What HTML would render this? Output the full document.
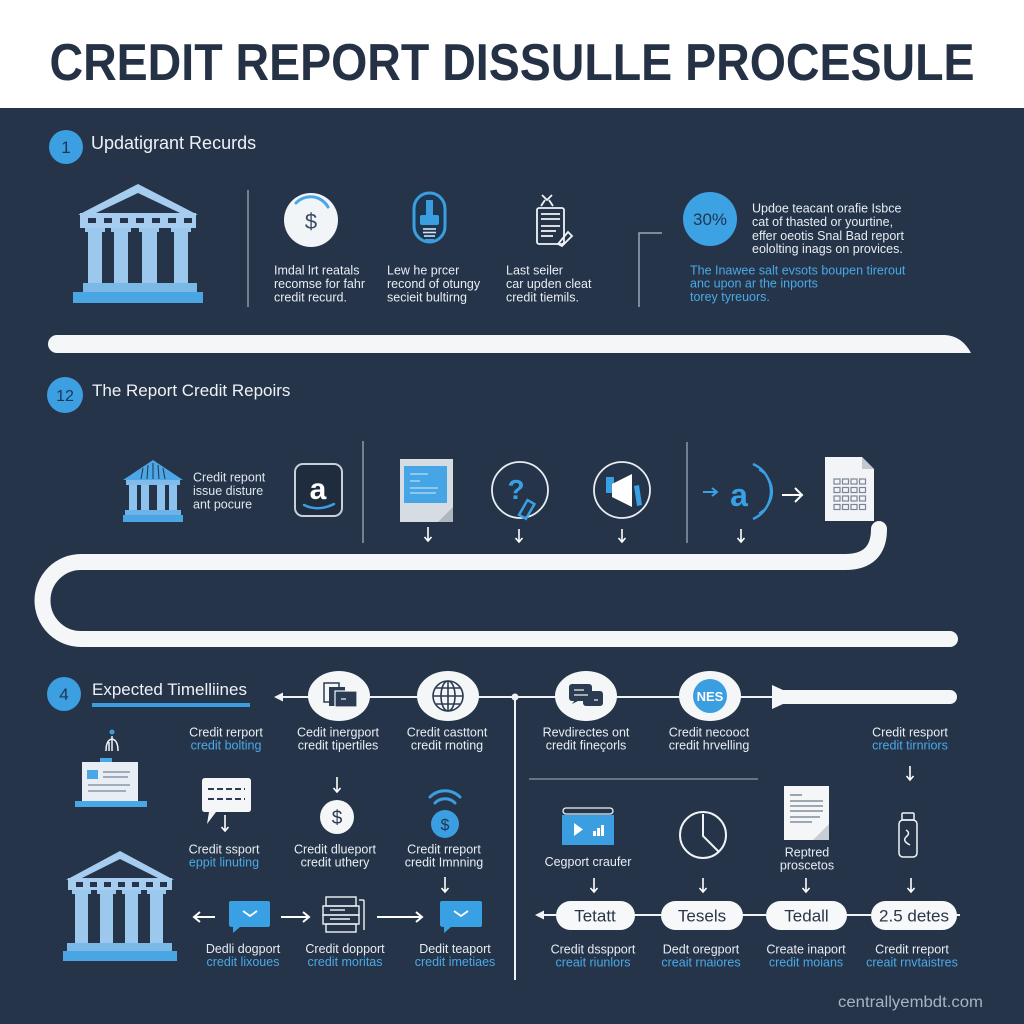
<!DOCTYPE html>
<html><head><meta charset="utf-8"><style>
html,body{margin:0;padding:0;background:#253448;}
svg{display:block;}
text{font-family:"Liberation Sans",Arial,sans-serif;}
</style></head><body>
<svg width="1024" height="1024" viewBox="0 0 1024 1024" xmlns="http://www.w3.org/2000/svg">
<rect x="0" y="0" width="1024" height="1024" fill="#253448"/>
<rect x="0" y="0" width="1024" height="108" fill="#ffffff"/>
<text x="512" y="80" text-anchor="middle" font-size="52" font-weight="bold" fill="#253246" textLength="925" lengthAdjust="spacingAndGlyphs">CREDIT REPORT DISSULLE PROCESULE</text>

<!-- ===== Section 1 ===== -->
<circle cx="66" cy="147" r="17" fill="#3b9fe1"/>
<text x="66" y="153" text-anchor="middle" font-size="17" fill="#1d3550">1</text>
<text x="91" y="149" font-size="18" fill="#eef2f6">Updatigrant Recurds</text>

<!-- big bank -->
<g>
<polygon points="138,184 198,215 78,215" fill="#a6cdf0"/>
<polygon points="138,193 180,213 96,213" fill="#253448"/>
<rect x="80" y="213" width="116" height="15" fill="#a6cdf0"/>
<g fill="#253448"><rect x="88" y="218" width="8" height="5"/><rect x="104" y="218" width="8" height="5"/><rect x="120" y="218" width="8" height="5"/><rect x="136" y="218" width="8" height="5"/><rect x="152" y="218" width="8" height="5"/><rect x="168" y="218" width="8" height="5"/><rect x="184" y="218" width="8" height="5"/></g>
<g fill="#9cc8ee">
<rect x="85" y="228" width="20" height="4"/><rect x="88" y="231" width="14" height="52"/>
<rect x="111" y="228" width="20" height="4"/><rect x="114" y="231" width="14" height="52"/>
<rect x="139" y="228" width="20" height="4"/><rect x="142" y="231" width="15" height="52"/>
<rect x="171" y="228" width="20" height="4"/><rect x="174" y="231" width="14" height="52"/>
</g>
<rect x="83" y="283" width="114" height="9" fill="#7ab8e8"/>
<rect x="73" y="292" width="130" height="11" fill="#4aa6e2"/>
</g>
<line x1="248" y1="190" x2="248" y2="307" stroke="#8e9aab" stroke-width="1.5"/>

<!-- dollar circle -->
<circle cx="311" cy="220" r="27" fill="#f2f5f8"/>
<path d="M296 203 A20 20 0 0 1 328 207" stroke="#4aa6e6" stroke-width="3" fill="none" stroke-linecap="round"/>
<text x="311" y="229" text-anchor="middle" font-size="22" fill="#3a4a60">$</text>

<!-- bulb -->
<rect x="414" y="193" width="31" height="49" rx="15.5" fill="#1f3650" stroke="#3a9ee0" stroke-width="3"/>
<rect x="426" y="200" width="7" height="17" fill="#3a9ee0"/>
<rect x="420" y="215" width="19" height="10" rx="2" fill="#3a9ee0"/>
<g stroke="#cfe3f5" stroke-width="1.6"><line x1="423" y1="229" x2="436" y2="229"/><line x1="423" y1="232.5" x2="436" y2="232.5"/><line x1="424" y1="236" x2="435" y2="236"/></g>
<rect x="425" y="239" width="9" height="4" fill="#3a9ee0"/>

<!-- doc icon -->
<g stroke="#f0f4f8" stroke-width="1.8" fill="none">
<path d="M542 195 l5 5 l5 -5 M545 200 l-4 6 M549 200 l4 6"/>
<rect x="537" y="208" width="27" height="36" rx="2"/>
<line x1="541" y1="214" x2="560" y2="214"/>
<line x1="541" y1="219" x2="560" y2="219"/>
<line x1="541" y1="226" x2="560" y2="226"/>
<line x1="541" y1="231" x2="556" y2="231"/>
<line x1="541" y1="236" x2="553" y2="236"/>
<path d="M558 244 L568 232 L572 236 L562 246 Z"/>
</g>

<g font-size="12.5" fill="#e8edf3">
<text x="274" y="274.5">Imdal lrt reatals</text>
<text x="274" y="288">recomse for fahr</text>
<text x="274" y="301.5">credit recurd.</text>
<text x="387" y="274.5">Lew he prcer</text>
<text x="387" y="288">recond of otungy</text>
<text x="387" y="301.5">secieit bultirng</text>
<text x="506" y="274.5">Last seiler</text>
<text x="506" y="288">car upden cleat</text>
<text x="506" y="301.5">credit tiemils.</text>
</g>

<polyline points="662,233 639,233 639,307" stroke="#9aa6b6" stroke-width="1.5" fill="none"/>
<circle cx="710" cy="219" r="27" fill="#3da2e3"/>
<text x="710" y="225" text-anchor="middle" font-size="17" fill="#1d3550">30%</text>
<g font-size="12.5" fill="#e8edf3">
<text x="752" y="212.5">Updoe teacant orafie Isbce</text>
<text x="752" y="226">cat of thasted or yourtine,</text>
<text x="752" y="240">effer oeotis Snal Bad report</text>
<text x="752" y="253">eololting inags on provices.</text>
</g>
<g font-size="12.5" fill="#4aa9e9">
<text x="690" y="274.5">The Inawee salt evsots boupen tirerout</text>
<text x="690" y="287.5">anc upon ar the inports</text>
<text x="690" y="301">torey tyreuors.</text>
</g>

<path d="M57 335 H945 Q962 336 971 353 H57 A9 9 0 0 1 57 335 Z" fill="#f4f6f8"/>

<!-- ===== Section 2 ===== -->
<circle cx="65" cy="395" r="18" fill="#3b9fe1"/>
<text x="65" y="401" text-anchor="middle" font-size="16" fill="#1d3550">12</text>
<text x="92" y="396" font-size="17" fill="#eef2f6">The Report Credit Repoirs</text>

<!-- small bank -->
<g>
<polygon points="153,460 183,480 123,480" fill="#4da6e6"/>
<g stroke="#253448" stroke-width="1"><line x1="143" y1="468" x2="141" y2="479"/><line x1="148" y1="465" x2="147" y2="479"/><line x1="153" y1="463" x2="153" y2="479"/><line x1="158" y1="465" x2="159" y2="479"/><line x1="163" y1="468" x2="165" y2="479"/></g>
<rect x="126" y="480" width="54" height="5" fill="#7fbbeb"/>
<g fill="#8dc2ee"><rect x="129" y="485" width="8" height="25"/><rect x="141" y="485" width="8" height="25"/><rect x="157" y="485" width="8" height="25"/><rect x="169" y="485" width="8" height="25"/></g>
<rect x="125" y="510" width="56" height="5" fill="#6fb2e8"/>
<rect x="123" y="515" width="60" height="7" fill="#4aa6e2"/>
</g>
<g font-size="12.5" fill="#dfe6ee">
<text x="193" y="481.5">Credit repont</text>
<text x="193" y="495">issue disture</text>
<text x="193" y="508.5">ant pocure</text>
</g>
<rect x="295" y="464" width="47" height="52" rx="8" fill="#1e2c3e" stroke="#c8d0da" stroke-width="2"/>
<text x="318" y="499" text-anchor="middle" font-size="30" font-weight="bold" fill="#ffffff">a</text>
<path d="M304 505 Q318 512 334 504" stroke="#3a9ee0" stroke-width="2.5" fill="none" stroke-linecap="round"/>
<line x1="363" y1="441" x2="363" y2="543" stroke="#8e9aab" stroke-width="1.5"/>

<rect x="400" y="459" width="53" height="63" fill="#d5dce4"/>
<rect x="404" y="466" width="43" height="37" fill="#45a5e5"/>
<g stroke="#d8ecfa" stroke-width="1"><line x1="410" y1="474" x2="428" y2="474"/><line x1="410" y1="481" x2="420" y2="481"/><line x1="410" y1="488" x2="438" y2="488"/><line x1="410" y1="493" x2="436" y2="493"/></g>
<polygon points="453,507 453,522 438,522" fill="#aeb6c0"/>

<circle cx="520" cy="490" r="28" fill="none" stroke="#e8edf3" stroke-width="1.8"/>
<text x="516" y="499" text-anchor="middle" font-size="28" font-weight="bold" fill="#3aa0e4">?</text>
<rect x="523" y="501" width="8" height="17" fill="none" stroke="#3aa0e4" stroke-width="2.5" transform="rotate(30 527 509)"/>

<circle cx="622" cy="490" r="28" fill="none" stroke="#e8edf3" stroke-width="1.8"/>
<rect x="606" y="477" width="8" height="16" fill="#3aa0e4"/>
<polygon points="612,484 632,474 632,507 612,497" fill="#ffffff"/>
<polygon points="634,486 639,485 642,505 637,506" fill="#3aa0e4"/>

<line x1="687" y1="442" x2="687" y2="543" stroke="#8e9aab" stroke-width="1.5"/>
<path d="M703 492 H716 M712 488 L717 492 L712 496" stroke="#3aa0e4" stroke-width="2" fill="none"/>
<text x="739" y="506" text-anchor="middle" font-size="32" font-weight="bold" fill="#3aa0e4">a</text>
<path d="M753 464 A30 30 0 0 1 753 519" stroke="#3aa0e4" stroke-width="2.5" fill="none"/>
<path d="M759 470 A24 24 0 0 1 759 513" stroke="#3aa0e4" stroke-width="1.5" fill="none"/>
<path d="M782 495 H802 M795 488 L802 495 L795 502" stroke="#ffffff" stroke-width="2" fill="none"/>

<path d="M825 457 H862 L874 469 V521 H825 Z" fill="#f2f4f7"/>
<polygon points="862,457 874,469 862,469" fill="#c2c8d0"/>
<g fill="none" stroke="#7b8594" stroke-width="1.2">
<rect x="834" y="479" width="6" height="5"/><rect x="842.5" y="479" width="6" height="5"/><rect x="851" y="479" width="6" height="5"/><rect x="859.5" y="479" width="6" height="5"/>
<rect x="834" y="487.5" width="6" height="5"/><rect x="842.5" y="487.5" width="6" height="5"/><rect x="851" y="487.5" width="6" height="5"/><rect x="859.5" y="487.5" width="6" height="5"/>
<rect x="834" y="496" width="6" height="5"/><rect x="842.5" y="496" width="6" height="5"/><rect x="851" y="496" width="6" height="5"/><rect x="859.5" y="496" width="6" height="5"/>
<rect x="834" y="504.5" width="6" height="5"/><rect x="842.5" y="504.5" width="6" height="5"/><rect x="851" y="504.5" width="6" height="5"/><rect x="859.5" y="504.5" width="6" height="5"/>
</g>

<g stroke="#ffffff" stroke-width="1.6" fill="none">
<path d="M428 527 V541 M424.5 537 L428 541 L431.5 537"/>
<path d="M519 529 V542 M515.5 538 L519 542 L522.5 538"/>
<path d="M622 529 V542 M618.5 538 L622 542 L625.5 538"/>
<path d="M741 529 V542 M737.5 538 L741 542 L744.5 538"/>
</g>

<path d="M879 529 Q879 562 845 562 H81 A38.5 38.5 0 0 0 81 639 H950" stroke="#f4f6f8" stroke-width="16" fill="none" stroke-linecap="round"/>

<!-- ===== Section 3 ===== -->
<circle cx="64" cy="694" r="17" fill="#3b9fe1"/>
<text x="64" y="700" text-anchor="middle" font-size="17" fill="#1d3550">4</text>
<text x="92" y="695" font-size="17" fill="#eef2f6">Expected Timelliines</text>
<rect x="92" y="703" width="158" height="4" fill="#3a9ee0"/>

<line x1="278" y1="697" x2="776" y2="697" stroke="#f0f3f6" stroke-width="2"/>
<polygon points="274,697 283,692.5 283,701.5" fill="#f0f3f6"/>
<path d="M772 685 L783 690 H950 A7 7 0 0 1 950 704 H783 L772 709 Z" fill="#f4f6f8"/>
<line x1="515" y1="697" x2="515" y2="980" stroke="#f0f3f6" stroke-width="2"/>
<circle cx="515" cy="697" r="3.5" fill="#f0f3f6"/>

<ellipse cx="339" cy="696" rx="31" ry="25" fill="#f4f6f8"/>
<g fill="#2b3b52"><rect x="324" y="683" width="15" height="19" fill="none" stroke="#2b3b52" stroke-width="1.5"/><rect x="329" y="687" width="16" height="19"/><rect x="335" y="691" width="22" height="16" fill="#2b3b52" stroke="#f4f6f8" stroke-width="1.2"/></g>
<line x1="341" y1="699" x2="346" y2="699" stroke="#f4f6f8" stroke-width="1.2"/>

<ellipse cx="448" cy="696" rx="31" ry="25" fill="#f4f6f8"/>
<g stroke="#2b3b52" stroke-width="1.6" fill="none"><circle cx="448" cy="696" r="15"/><ellipse cx="448" cy="696" rx="7" ry="15"/><line x1="433" y1="696" x2="463" y2="696"/><line x1="448" y1="681" x2="448" y2="711"/><line x1="436" y1="688" x2="460" y2="688"/><line x1="436" y1="704" x2="460" y2="704"/></g>

<ellipse cx="586" cy="696" rx="31" ry="25" fill="#f4f6f8"/>
<rect x="569" y="684" width="23" height="17" rx="3" fill="#2b3b52"/>
<rect x="583" y="691" width="20" height="15" rx="3" fill="#2b3b52"/>
<path d="M572 704 L575 700 L578 701 Z" fill="#2b3b52"/>
<g stroke="#f4f6f8" stroke-width="1.2"><line x1="574" y1="690" x2="584" y2="690"/><line x1="574" y1="695" x2="588" y2="695"/><line x1="594" y1="700" x2="598" y2="700"/></g>

<ellipse cx="710" cy="696" rx="31" ry="25" fill="#f4f6f8"/>
<circle cx="710" cy="696" r="17" fill="#3a9ee0"/>
<text x="710" y="701" text-anchor="middle" font-size="13" font-weight="bold" fill="#ffffff">NES</text>

<g font-size="12.5" text-anchor="middle" fill="#e8edf3">
<text x="226" y="736.5">Credit rerport</text><text x="226" y="749.5" fill="#4aa9e9">credit bolting</text>
<text x="338" y="736.5">Cedit inergport</text><text x="338" y="749.5">credit tipertiles</text>
<text x="447" y="736.5">Credit casttont</text><text x="447" y="749.5">credit rnoting</text>
<text x="586" y="736.5">Revdirectes ont</text><text x="586" y="749.5">credit fineçorls</text>
<text x="709" y="736.5">Credit necooct</text><text x="709" y="749.5">credit hrvelling</text>
<text x="910" y="736.5">Credit resport</text><text x="910" y="749.5" fill="#4aa9e9">credit tirnriors</text>
</g>

<!-- antenna + laptop -->
<circle cx="112" cy="732" r="2.5" fill="#3a9ee0"/>
<g stroke="#f0f3f6" stroke-width="1.5" fill="none"><path d="M112 736 V751 M112 739 Q106 740 106 751 M112 739 Q118 740 118 751 M109 742 V751"/></g>
<rect x="100" y="758" width="12" height="5" fill="#4aa6e6"/>
<rect x="82" y="762" width="56" height="39" fill="#e9eef4"/>
<rect x="87" y="770" width="11" height="9" fill="#4aa6e6"/>
<g stroke="#8996a8" stroke-width="1.5"><line x1="103" y1="772" x2="130" y2="772"/><line x1="103" y1="777" x2="128" y2="777"/><line x1="88" y1="785" x2="130" y2="785"/><line x1="88" y1="791" x2="126" y2="791"/></g>
<rect x="75" y="801" width="72" height="6" fill="#4aa6e6"/>

<path d="M205 778 H248 Q251 778 251 781 V809 Q251 812 248 812 H216 L207 824 L209 812 H205 Q202 812 202 809 V781 Q202 778 205 778 Z" fill="#f4f6f8"/>
<g stroke="#2b3b52" stroke-width="2"><line x1="208" y1="789" x2="245" y2="789" stroke-dasharray="6 3"/><line x1="208" y1="799" x2="245" y2="799" stroke-dasharray="6 3"/></g>

<circle cx="337" cy="817" r="17" fill="#f4f6f8"/>
<text x="337" y="824" text-anchor="middle" font-size="19" fill="#2b3b52">$</text>

<g stroke="#3a9ee0" stroke-width="3" fill="none" stroke-linecap="round"><path d="M430 797 A21 21 0 0 1 460 797"/><path d="M435 803 A14 14 0 0 1 455 803"/></g>
<circle cx="445" cy="824" r="14" fill="#3a9ee0"/>
<text x="445" y="830" text-anchor="middle" font-size="16" fill="#1d3550">$</text>

<g font-size="12.5" text-anchor="middle" fill="#e8edf3">
<text x="224" y="853.5">Credit ssport</text><text x="224" y="866.5" fill="#4aa9e9">eppit linuting</text>
<text x="335" y="853.5">Credit dlueport</text><text x="335" y="866.5">credit uthery</text>
<text x="444" y="853.5">Credit rreport</text><text x="444" y="866.5">credit Imnning</text>
</g>

<line x1="529" y1="779" x2="758" y2="779" stroke="#7d899a" stroke-width="1.5"/>

<rect x="563" y="808" width="50" height="6" rx="3" fill="none" stroke="#f0f3f6" stroke-width="1.3"/>
<rect x="562" y="815" width="52" height="30" fill="#3a9ee0"/>
<polygon points="574,823 574,836 583,829.5" fill="#ffffff"/>
<g fill="#ffffff"><rect x="593" y="831" width="3" height="5"/><rect x="597" y="828" width="3" height="8"/><rect x="601" y="825" width="3" height="11"/></g>

<g stroke="#f0f3f6" stroke-width="2" fill="none">
<circle cx="703" cy="835" r="23"/>
<path d="M703 814 V836 L719 852"/>
</g>

<path d="M784 786 H829 V840 H784 Z" fill="#f4f6f8"/>
<polygon points="829,824 829,840 813,840" fill="#c8ced6"/>
<g stroke="#6c7888" stroke-width="1.3"><line x1="790" y1="795" x2="802" y2="795"/><line x1="790" y1="801" x2="823" y2="801"/><line x1="790" y1="806" x2="823" y2="806"/><line x1="790" y1="811" x2="823" y2="811"/><line x1="790" y1="817" x2="820" y2="817"/><line x1="790" y1="822" x2="812" y2="822"/></g>

<g stroke="#f0f3f6" stroke-width="1.5" fill="none">
<rect x="902" y="813" width="12" height="7" rx="1"/>
<rect x="899" y="820" width="18" height="37" rx="4"/>
<path d="M906 830 Q911 833 906 837 Q902 841 910 845"/>
</g>

<g font-size="12.5" text-anchor="middle" fill="#e8edf3">
<text x="588" y="866">Cegport craufer</text>
<text x="807" y="856.5">Reptred</text><text x="807" y="869.5">proscetos</text>
</g>

<g stroke="#ffffff" stroke-width="1.6" fill="none">
<path d="M910 766 V780 M906.5 776 L910 780 L913.5 776"/>
<path d="M594 878 V892 M590.5 888 L594 892 L597.5 888"/>
<path d="M703 878 V892 M699.5 888 L703 892 L706.5 888"/>
<path d="M806 878 V892 M802.5 888 L806 892 L809.5 888"/>
<path d="M911 878 V892 M907.5 888 L911 892 L914.5 888"/>
<path d="M225 815 V831 M221.5 827 L225 831 L228.5 827"/>
<path d="M337 777 V792 M333.5 788 L337 792 L340.5 788"/>
<path d="M445 877 V892 M441.5 888 L445 892 L448.5 888"/>
</g>

<line x1="540" y1="915" x2="960" y2="915" stroke="#f0f3f6" stroke-width="2"/>
<polygon points="535,915 544,910.5 544,919.5" fill="#f0f3f6"/>
<g fill="#f6f8fa">
<rect x="556" y="901" width="79" height="29" rx="14.5"/>
<rect x="661" y="901" width="82" height="29" rx="14.5"/>
<rect x="766" y="901" width="81" height="29" rx="14.5"/>
<rect x="871" y="901" width="86" height="29" rx="14.5"/>
</g>
<g font-size="17" text-anchor="middle" fill="#2a3648">
<text x="595" y="921.5">Tetatt</text>
<text x="702" y="921.5">Tesels</text>
<text x="806.5" y="921.5">Tedall</text>
<text x="914" y="921.5">2.5 detes</text>
</g>
<g font-size="12.5" text-anchor="middle" fill="#e8edf3">
<text x="593" y="953.5">Credit dsspport</text><text x="593" y="966.5" fill="#4aa9e9">creait riunlors</text>
<text x="701" y="953.5">Dedt oregport</text><text x="701" y="966.5" fill="#4aa9e9">creait rnaiores</text>
<text x="806" y="953.5">Create inaport</text><text x="806" y="966.5" fill="#4aa9e9">credit moians</text>
<text x="912" y="953.5">Credit rreport</text><text x="912" y="966.5" fill="#4aa9e9">creait rnvtaistres</text>
</g>

<!-- bottom bank -->
<g>
<polygon points="120,851 174,880 66,880" fill="#a6cdf0"/>
<polygon points="120,859 158,878 82,878" fill="#253448"/>
<rect x="68" y="878" width="104" height="12" fill="#a6cdf0"/>
<g fill="#253448"><rect x="76" y="882" width="7" height="5"/><rect x="90" y="882" width="7" height="5"/><rect x="104" y="882" width="7" height="5"/><rect x="118" y="882" width="7" height="5"/><rect x="132" y="882" width="7" height="5"/><rect x="146" y="882" width="7" height="5"/><rect x="160" y="882" width="7" height="5"/></g>
<g fill="#9cc8ee">
<rect x="72" y="890" width="19" height="4"/><rect x="75" y="893" width="13" height="50"/>
<rect x="97" y="890" width="19" height="4"/><rect x="100" y="893" width="13" height="50"/>
<rect x="122" y="890" width="19" height="4"/><rect x="125" y="893" width="13" height="50"/>
<rect x="147" y="890" width="19" height="4"/><rect x="150" y="893" width="13" height="50"/>
</g>
<rect x="67" y="943" width="105" height="8" fill="#7ab8e8"/>
<rect x="63" y="951" width="114" height="10" fill="#4aa6e2"/>
</g>

<g stroke="#ffffff" stroke-width="2" fill="none">
<path d="M215 917 H195 M200 912 L194 917 L200 922"/>
<path d="M281 917 H308 M303 912 L309 917 L303 922"/>
<path d="M377 917 H421 M416 912 L422 917 L416 922"/>
</g>
<path d="M231 901 H268 Q270 901 270 903 V925 Q270 927 268 927 H240 L233 933 L233 927 Q229 927 229 925 V903 Q229 901 231 901 Z" fill="#3aa0e4"/>
<path d="M243 911 L250 916 L257 911" stroke="#ffffff" stroke-width="1.8" fill="none"/>
<path d="M442 901 H480 Q482 901 482 903 V925 Q482 927 480 927 H451 L444 933 L444 927 Q440 927 440 925 V903 Q440 901 442 901 Z" fill="#3aa0e4"/>
<path d="M454 911 L461 916 L468 911" stroke="#ffffff" stroke-width="1.8" fill="none"/>
<g stroke="#f0f3f6" stroke-width="1.4" fill="none">
<rect x="326" y="897" width="30" height="9"/>
<rect x="323" y="906" width="36" height="9"/>
<rect x="323" y="915" width="36" height="9"/>
<rect x="326" y="924" width="30" height="8"/>
<line x1="359" y1="900" x2="364" y2="900"/><line x1="364" y1="900" x2="364" y2="930"/>
<line x1="330" y1="910" x2="345" y2="910"/><line x1="330" y1="919" x2="350" y2="919"/>
</g>

<g font-size="12.5" text-anchor="middle" fill="#e8edf3">
<text x="243" y="953">Dedli dogport</text><text x="243" y="966" fill="#4aa9e9">credit lixoues</text>
<text x="345" y="953">Credit dopport</text><text x="345" y="966" fill="#4aa9e9">credit moritas</text>
<text x="455" y="953">Dedit teaport</text><text x="455" y="966" fill="#4aa9e9">credit imetiaes</text>
</g>

<text x="838" y="1007" font-size="15.5" fill="#a9b4c3" textLength="145" lengthAdjust="spacingAndGlyphs">centrallyembdt.com</text>
</svg>
</body></html>
